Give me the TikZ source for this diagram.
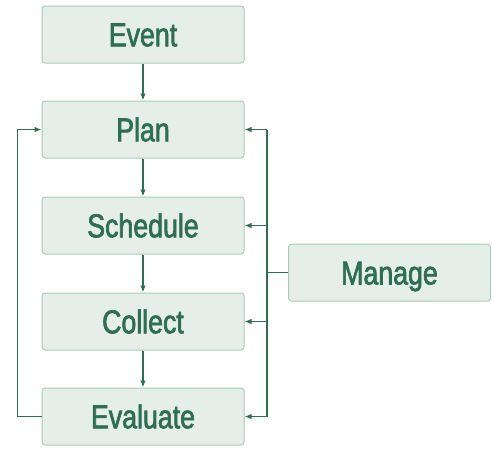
\documentclass[tikz,border=0pt]{standalone}
\usepackage{fontspec}
\setmainfont{Liberation Sans}[FakeStretch=0.81, FakeBold=2]
\usetikzlibrary{arrows.meta}
\definecolor{boxfill}{HTML}{E6EEEA}
\definecolor{boxline}{HTML}{A8CBBC}
\definecolor{ink}{HTML}{2F6E55}
\begin{document}
\begin{tikzpicture}[x=1pt,y=-1pt,
  box/.style={draw=boxline, fill=boxfill, rounded corners=3pt, line width=1pt,
    minimum width=202pt, minimum height=57pt, inner sep=0pt,
    font=\fontsize{33}{33}\selectfont, text=ink, text height=23.5pt, text depth=0pt},
  conn/.style={draw=ink, line width=1.3pt, -{Latex[length=7pt,width=5.5pt]}},
  wire/.style={draw=ink, line width=1.3pt}]
\useasboundingbox (0,0) rectangle (492,448);
\node[box] (event) at (143,34.5) {Event};
\node[box] (plan) at (143,129.5) {Plan};
\node[box] (schedule) at (143,225.5) {Schedule};
\node[box] (collect) at (143,321.5) {Collect};
\node[box] (evaluate) at (143,416.5) {Evaluate};
\node[box] (manage) at (389.5,272.7) {Manage};
\draw[conn] (event) -- (plan);
\draw[conn] (plan) -- (schedule);
\draw[conn] (schedule) -- (collect);
\draw[conn] (collect) -- (evaluate);
\draw[conn] (evaluate.west) -- ++(-24,0) |- (plan.west);
\coordinate (bus) at (267,272.7);
\draw[wire] (manage.west) -- (bus);
\draw[wire] (bus |- plan.east) -- (bus |- evaluate.east);
\draw[conn] (bus |- plan.east) -- (plan.east);
\draw[conn] (bus |- schedule.east) -- (schedule.east);
\draw[conn] (bus |- collect.east) -- (collect.east);
\draw[conn] (bus |- evaluate.east) -- (evaluate.east);
\end{tikzpicture}
\end{document}
